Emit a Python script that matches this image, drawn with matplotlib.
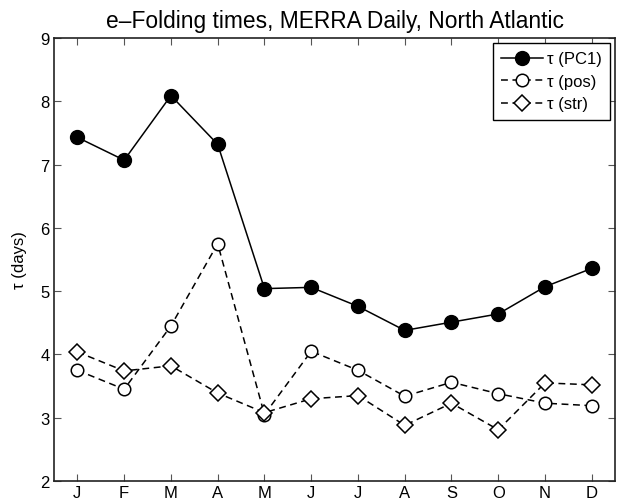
import matplotlib
matplotlib.use('Agg')
import matplotlib.pyplot as plt

plt.rcParams['font.family'] = ['Liberation Sans', 'DejaVu Sans']

# 資料
months = ['J', 'F', 'M', 'A', 'M', 'J', 'J', 'A', 'S', 'O', 'N', 'D']
tau_pc1 = [7.43, 7.07, 8.09, 7.32, 5.04, 5.06, 4.76, 4.38, 4.51, 4.64, 5.07, 5.36]
tau_pos = [3.75, 3.45, 4.45, 5.75, 3.05, 4.05, 3.75, 3.34, 3.56, 3.38, 3.23, 3.19]
tau_str = [4.04, 3.74, 3.82, 3.39, 3.08, 3.30, 3.35, 2.88, 3.23, 2.81, 3.55, 3.52]

x = list(range(1, len(months) + 1))

fig = plt.figure(figsize=(6.18, 5.02), dpi=100)
ax = fig.add_axes([0.0874, 0.0398, 0.908, 0.8825])

ax.plot(x, tau_pc1, '-', color='black', linewidth=1.1,
        marker='o', markersize=10, markerfacecolor='black', label='τ (PC1)')
ax.plot(x, tau_pos, '--', color='black', linewidth=1.1, dashes=(4.5, 3),
        marker='o', markersize=9, markerfacecolor='white', markeredgewidth=1.1,
        label='τ (pos)')
ax.plot(x, tau_str, '--', color='black', linewidth=1.1, dashes=(4.5, 3),
        marker='D', markersize=8, markerfacecolor='white', markeredgewidth=1.1,
        label='τ (str)')

ax.set_xlim(0.5, 12.5)
ax.set_ylim(2, 9)
ax.set_xticks(x)
ax.set_xticklabels(months)
ax.set_yticks(range(2, 10))
ax.tick_params(direction='in', top=True, right=True, labelsize=12, length=5, pad=3,
               width=0.8, color='#555555')
for s in ax.spines.values():
    s.set_linewidth(1.2)
    s.set_color('#222222')

ax.set_ylabel('τ (days)', fontsize=12, labelpad=10)
ax.set_title('e\u2013Folding times, MERRA Daily, North Atlantic', fontsize=16.4, pad=8)

leg = ax.legend(loc='upper right', fontsize=12, handlelength=2.5, handletextpad=0.25,
                borderpad=0.5, labelspacing=0.45, fancybox=False, framealpha=1,
                edgecolor='black', borderaxespad=0.3)
leg.get_frame().set_linewidth(1.0)

fig.savefig('out.png', dpi=100)
